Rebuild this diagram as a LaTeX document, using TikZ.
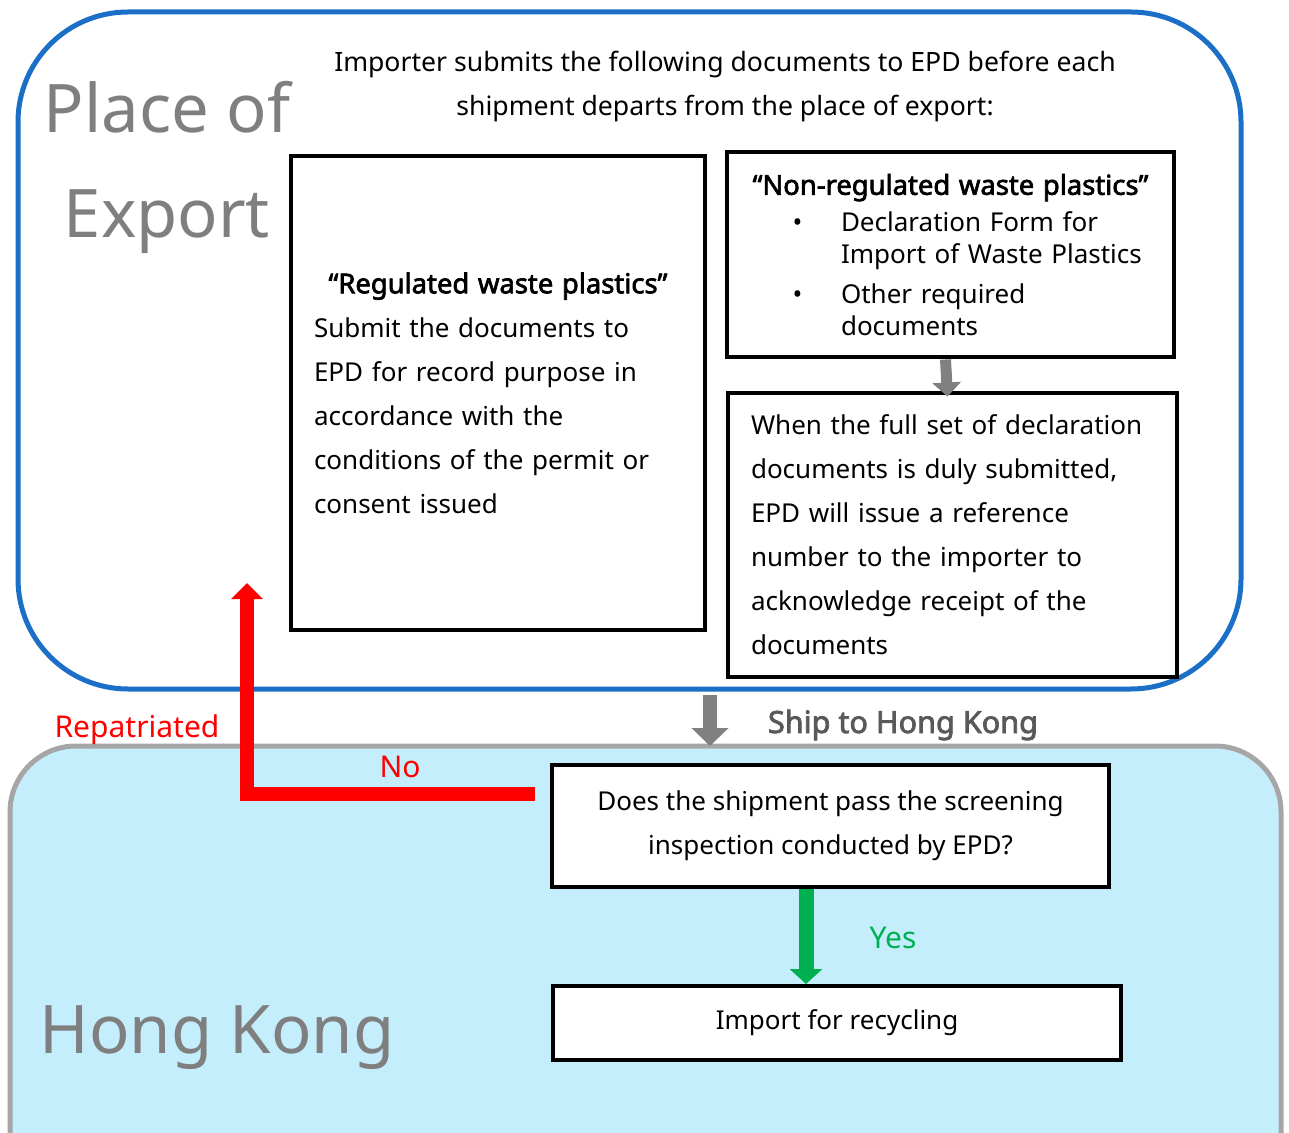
\documentclass[tikz,border=0pt]{standalone}
\usepackage{fontspec}
\setmainfont{Noto Sans}[BoldFont={Noto Sans},BoldFeatures={FakeBold=2.5}]
\usetikzlibrary{arrows.meta}

\definecolor{exportblue}{RGB}{28,111,198}
\definecolor{hkfill}{RGB}{197,238,253}
\definecolor{hkedge}{RGB}{166,166,166}
\definecolor{labelgray}{RGB}{127,127,127}
\definecolor{shipgray}{RGB}{89,89,89}
\definecolor{arrowgray}{RGB}{128,128,128}
\definecolor{yesgreen}{RGB}{0,176,80}

\newcommand{\bodyfont}{\fontsize{13}{22}\selectfont}
\newcommand{\titlefont}{\fontsize{13.7}{16}\selectfont\bfseries}

\tikzset{
  box/.style={draw=black, line width=2pt, fill=white, inner sep=0pt, font=\bodyfont},
  biglabel/.style={text=labelgray, font=\fontsize{33.5}{40}\selectfont, inner sep=0pt, anchor=base},
  flowlabel/.style={font=\fontsize{15}{16}\selectfont, inner sep=0pt, anchor=base},
}

\begin{document}
\begin{tikzpicture}[x=0.5pt,y=-0.5pt]
  \useasboundingbox (0,0) rectangle (1289,1133);
  % regions
  \draw[hkedge, line width=2.5pt, fill=hkfill, rounded corners=33pt] (10,746) rectangle (1281,1230);
  \draw[exportblue, line width=2.5pt, rounded corners=55pt] (18,12) rectangle (1241,689);

  \node[biglabel] (placeof) at (167,133) {Place of};
  \node[biglabel] (export) at (167,238) {Export};
  \node[biglabel] (hongkong) at (217,1053) {Hong Kong};

  \node[font=\fontsize{13.3}{22}\selectfont, align=center, inner sep=0pt] (intro) at (725,87)
    {Importer submits the following documents to EPD before each\\shipment departs from the place of export:};

  % documents
  \node[box, minimum width=207pt, minimum height=237pt, text width=184pt, align=left] (regulated) at (498,393)
    {\makebox[184pt]{\titlefont “Regulated waste plastics”}\\
     Submit the documents to\\
     EPD for record purpose in\\
     accordance with the\\
     conditions of the permit or\\
     consent issued};
  \node[box, minimum width=223.5pt, minimum height=102.5pt, text width=210pt, align=left,
        font=\fontsize{13}{16}\selectfont] (nonreg) at (950.5,255)
    {\makebox[210pt]{\titlefont “Non-regulated waste plastics”}\\[2.5pt]
     \hspace*{26pt}\makebox[24.25pt][l]{\textbullet}Declaration Form for\\
     \hspace*{50.25pt}Import of Waste Plastics\\[4pt]
     \hspace*{26pt}\makebox[24.25pt][l]{\textbullet}Other required\\
     \hspace*{50.25pt}documents};
  \node[box, minimum width=224.5pt, minimum height=141.5pt, text width=201.5pt, align=left] (refno) at (952.5,535)
    {When the full set of declaration\\
     documents is duly submitted,\\
     EPD will issue a reference\\
     number to the importer to\\
     acknowledge receipt of the\\
     documents};

  % Hong Kong side
  \node[box, minimum width=278.5pt, minimum height=61pt, align=center] (screen) at (830.5,826)
    {Does the shipment pass the screening\\inspection conducted by EPD?};
  \node[box, minimum width=284pt, minimum height=37pt] (recycle) at (837,1023) {Import for recycling};

  \coordinate (shiptop) at (710,695);
  \coordinate (shiptip) at (710,746);
  \coordinate (nostart) at (535,794);
  \coordinate (backtip) at (247,583);

  \draw[arrowgray, line width=5.5pt, -{Triangle[width=14pt,length=7pt]}]
    ([xshift=-2.5pt]nonreg.south) -- ([xshift=-2.5pt,yshift=-2.5pt]refno.north);
  \draw[arrowgray, line width=7pt, -{Triangle[width=18pt,length=9pt]}] (shiptop) -- (shiptip);
  \draw[yesgreen, line width=7.5pt, -{Triangle[width=16pt,length=7.5pt]}]
    (screen.south -| 806,0) -- (recycle.north -| 806,0);
  \draw[red, line width=7pt, line join=miter, -{Triangle[width=15.5pt,length=8pt]}] (nostart) -| (backtip);

  \node[flowlabel, text=shipgray, font=\fontsize{15.3}{16}\selectfont\bfseries] (shiplabel) at (903,733) {Ship to Hong Kong};
  \node[flowlabel, text=red] (repatriated) at (137,737) {Repatriated};
  \node[flowlabel, text=red] (nolabel) at (400,777) {No};
  \node[flowlabel, text=yesgreen] (yeslabel) at (893,948) {Yes};
\end{tikzpicture}
\end{document}
